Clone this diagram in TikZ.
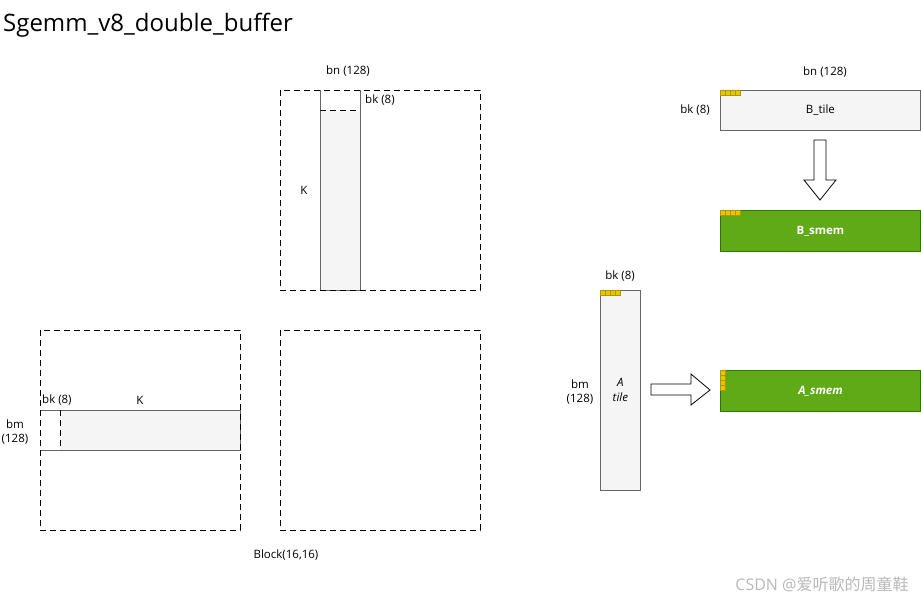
\documentclass[tikz,border=0pt]{standalone}
\usepackage{fontspec}
\setmainfont{Open Sans}
\newfontfamily\cjk{Noto Sans CJK SC}
\definecolor{tilegray}{HTML}{F5F5F5}
\definecolor{edgegray}{HTML}{666666}
\definecolor{smemgreen}{HTML}{60A917}
\definecolor{smemedge}{HTML}{2D7600}
\definecolor{yel}{HTML}{E3C800}
\definecolor{yeledge}{HTML}{B09500}
\begin{document}
\begin{tikzpicture}[x=1pt,y=-1pt,
  lbl/.style={font=\fontsize{11.5}{14}\selectfont, inner sep=0pt, align=center},
  dbox/.style={draw=black, dash pattern=on 6pt off 4pt, line width=0.8pt},
  dline/.style={draw=black, dash pattern=on 6pt off 4pt, line width=0.8pt},
  gline/.style={draw=edgegray, line width=0.8pt},
  tile/.style={draw=edgegray, fill=tilegray, line width=0.8pt},
  smem/.style={draw=smemedge, fill=smemgreen, line width=1pt},
  ysq/.style={draw=yeledge, fill=yel, line width=0.4pt},
  barrow/.style={draw=black, fill=white, line width=0.8pt}]
\useasboundingbox (0,0) rectangle (921,600);
% title
\node[anchor=west, font=\fontsize{24}{28}\selectfont, inner sep=0pt] (title) at (3,25) {Sgemm\_v8\_double\_buffer};
% top square (B)
\fill[tilegray] (320,110) rectangle (360,290);
\draw[gline] (320,90) -- (320,290) -- (360,290) -- (360,90);
\draw[dline] (320,110) -- (360,110);
\draw[dbox] (280,90) rectangle (480,290);
\node[lbl] (bnTop) at (348,71) {bn (128)};
\node[lbl, anchor=west] (bkTop) at (365,100) {bk (8)};
\node[lbl] (kTop) at (304,190) {K};
% bottom-left square (A)
\fill[tilegray] (60,410) rectangle (240,450);
\draw[gline] (40,410) -- (240,410) -- (240,450) -- (40,450);
\draw[dline] (60,410) -- (60,450);
\draw[dbox] (40,330) rectangle (240,530);
\node[lbl, anchor=west] (bkLeft) at (42,400) {bk (8)};
\node[lbl] (kLeft) at (140,400) {K};
\node[lbl] (bmLeft) at (15,432) {bm\\(128)};
% bottom-right square (C)
\draw[dbox] (280,330) rectangle (480,530);
\node[lbl] (block) at (286,555) {Block(16,16)};
% B_tile
\node[tile, minimum width=200pt, minimum height=40pt, anchor=north west, inner sep=0pt, font=\fontsize{11.5}{14}\selectfont] (btile) at (720,90) {B\_tile};
\foreach \i in {0,1,2,3} \draw[ysq] (720+5*\i,90) rectangle (725+5*\i,95);
\node[lbl] (bnR) at (825,72) {bn (128)};
\node[lbl] (bkR) at (695,110) {bk (8)};
% down arrow
\draw[barrow] (814,140) -- (826,140) -- (826,180) -- (836,180) -- (820,200) -- (804,180) -- (814,180) -- cycle;
% B_smem
\node[smem, minimum width=200pt, minimum height=41pt, anchor=north west, inner sep=0pt, text=white, font=\bfseries\fontsize{11.5}{14}\selectfont] (bsmem) at (720,210) {B\_smem};
\foreach \i in {0,1,2,3} \draw[ysq] (720+5*\i,210) rectangle (725+5*\i,215);
% A tile
\node[tile, minimum width=40pt, minimum height=200pt, anchor=north west, inner sep=0pt, font=\itshape\fontsize{11.5}{15}\selectfont, align=center] (atile) at (600,290) {A\\tile};
\foreach \i in {0,1,2,3} \draw[ysq] (600+5*\i,290) rectangle (605+5*\i,295);
\node[lbl] (bkA) at (620,276) {bk (8)};
\node[lbl] (bmA) at (580,392) {bm\\(128)};
% right arrow
\draw[barrow] (651,384) -- (691,384) -- (691,374) -- (710,390) -- (691,405) -- (691,395) -- (651,395) -- cycle;
% A_smem
\node[smem, minimum width=200pt, minimum height=41pt, anchor=north west, inner sep=0pt, text=white, font=\bfseries\itshape\fontsize{11.5}{14}\selectfont] (asmem) at (720,370) {A\_smem};
\foreach \i in {0,1,2,3} \draw[ysq] (720,370+5*\i) rectangle (725,375+5*\i);
% watermark
\node[lbl, text=black!28, font=\fontsize{16}{18}\selectfont] (wm) at (822,584) {CSDN @{\cjk 爱听歌的周童鞋}};
\end{tikzpicture}
\end{document}
